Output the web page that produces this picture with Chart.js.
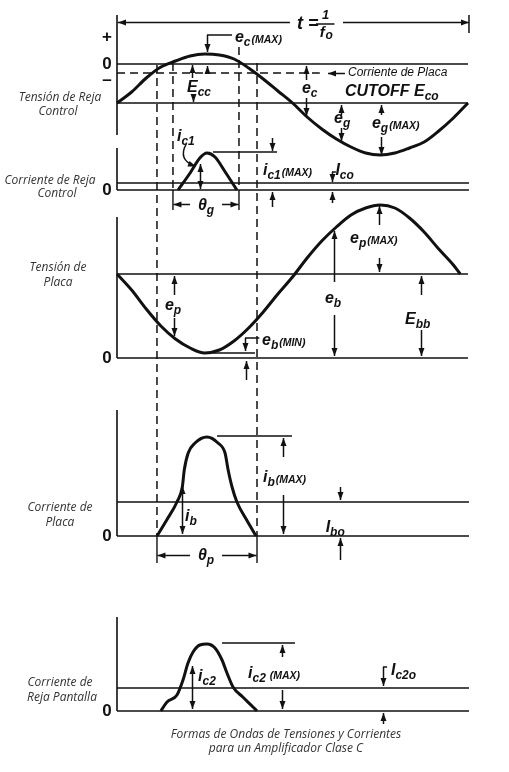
<!DOCTYPE html>
<html>
<head>
<meta charset="utf-8">
<script src="https://cdn.jsdelivr.net/npm/chart.js@4.4.1/dist/chart.umd.min.js"></script>
<style>
  html, body { margin: 0; padding: 0; background: #fff; }
  canvas { display: block; }
</style>
</head>
<body>
<canvas id="waves" width="509" height="772"></canvas>
<script>
// Phase in electrical degrees over one period t = 1/f0
const phase = [0, 15, 30, 45, 60, 75, 90, 105, 120, 135, 150, 165, 180, 195, 210, 225, 240, 255, 270, 285, 300, 315, 330, 345, 360];
// grid signal e_g, measured from the bias line -Ecc (up = positive)
const gridSignal = [0, 11, 25, 36, 42, 47, 49, 48, 44, 35, 24, 12, 0, -14, -26, -36, -44, -50, -52, -50, -45, -39, -28, -15, 0];

// plate signal e_p, measured from Ebb (the drawn curve stops a little short of 360)
const platePhase = [0, 15, 30, 45, 60, 75, 90, 105, 120, 135, 150, 165, 180, 195, 210, 225, 240, 255, 270, 285, 300, 315, 330, 345, 352];
const plateSignal = [0, -16, -35, -52, -65, -74, -79, -76, -67, -54, -38, -20, -3, 16, 33, 47, 59, 66, 69, 66, 56, 42, 25, 9, 0];

// current pulses
const gridCurrentPhase = [62.6, 75, 85, 92.3, 100.5, 111, 123];
const gridCurrent = [0, 17, 32, 37, 33, 18, 0];
const plateCurrentPhase = [41, 51, 61.5, 67, 69, 73, 80, 92.3, 103.6, 110.8, 114, 118, 123, 133, 142.6];
const plateCurrent = [0, 16, 34, 49, 66, 83, 93, 99, 93, 83, 66, 49, 34, 16, 0];
const screenCurrentPhase = [45, 51.3, 61.5, 67.7, 72.8, 78, 85, 92.3, 100.5, 107.7, 112.8, 119, 129, 139.5, 143.6];
const screenCurrent = [0, 9, 16, 31, 48, 59, 66, 67, 63, 51, 38, 24, 14, 4, 0];

// dc levels
const biasEcc = 39;      // grid bias below zero
const cutoffEco = 9;     // plate current cutoff below zero
const gridIco = 7;
const plateEbb = 84;
const plateIbo = 34;
const screenIc2o = 23;

// conduction angles (dashed verticals)
const plateAngles = [41, 143.6];
const gridAngles = [57.4, 125.1];

// layout: zero line of every panel (canvas rows, top-down) and top of its axis
const zeroRow = { gridV: 64, gridI: 190, plateV: 358, plateI: 536, screenI: 711 };
const axisTop = { gridV: 15, gridI: 148, plateV: 217, plateI: 410, screenI: 617 };

const INK = '#111';

function curve(xs, ys, toRow) {
  return {
    data: xs.map((x, i) => ({ x: x, y: toRow(ys[i]) })),
    showLine: true, borderColor: INK, borderWidth: 3, pointRadius: 0,
    cubicInterpolationMode: 'monotone', clip: false
  };
}
function seg(x1, y1, x2, y2, extra) {
  return Object.assign({
    data: [{ x: x1, y: y1 }, { x: x2, y: y2 }],
    showLine: true, borderColor: INK, borderWidth: 1.6, pointRadius: 0, clip: false
  }, extra || {});
}
const dashed = { borderDash: [8, 5], borderWidth: 1.5 };

const datasets = [
  curve(phase, gridSignal, v => zeroRow.gridV + biasEcc - v),
  curve(platePhase, plateSignal, v => zeroRow.plateV - plateEbb - v),
  curve(gridCurrentPhase, gridCurrent, v => zeroRow.gridI - v),
  curve(plateCurrentPhase, plateCurrent, v => zeroRow.plateI - v),
  curve(screenCurrentPhase, screenCurrent, v => zeroRow.screenI - v),

  // grid voltage panel
  seg(0, zeroRow.gridV, 360, zeroRow.gridV),
  seg(0, zeroRow.gridV + biasEcc, 360, zeroRow.gridV + biasEcc),
  seg(0, zeroRow.gridV + cutoffEco, 208, zeroRow.gridV + cutoffEco, dashed),
  seg(0, axisTop.gridV, 0, 135),
  // grid current panel
  seg(0, zeroRow.gridI, 361, zeroRow.gridI),
  seg(0, zeroRow.gridI - gridIco, 361, zeroRow.gridI - gridIco),
  seg(0, axisTop.gridI, 0, zeroRow.gridI),
  // plate voltage panel
  seg(0, zeroRow.plateV, 360, zeroRow.plateV),
  seg(0, zeroRow.plateV - plateEbb, 360, zeroRow.plateV - plateEbb),
  seg(0, axisTop.plateV, 0, zeroRow.plateV),
  // plate current panel
  seg(0, zeroRow.plateI, 361, zeroRow.plateI),
  seg(0, zeroRow.plateI - plateIbo, 361, zeroRow.plateI - plateIbo),
  seg(0, axisTop.plateI, 0, zeroRow.plateI),
  // screen current panel
  seg(0, zeroRow.screenI, 361, zeroRow.screenI),
  seg(0, zeroRow.screenI - screenIc2o, 361, zeroRow.screenI - screenIc2o),
  seg(0, axisTop.screenI, 0, zeroRow.screenI),

  // conduction angle markers
  seg(plateAngles[0], 65, plateAngles[0], zeroRow.plateI, dashed),
  seg(plateAngles[1], 63, plateAngles[1], zeroRow.plateI, dashed),
  seg(plateAngles[0], zeroRow.plateI, plateAngles[0], 563, { borderWidth: 1.4 }),
  seg(plateAngles[1], zeroRow.plateI, plateAngles[1], 563, { borderWidth: 1.4 }),
  seg(gridAngles[0], 63, gridAngles[0], zeroRow.gridI, dashed),
  seg(gridAngles[1], 47, gridAngles[1], zeroRow.gridI, dashed),
  seg(gridAngles[0], zeroRow.gridI, gridAngles[0], 210, { borderWidth: 1.4 }),
  seg(gridAngles[1], zeroRow.gridI, gridAngles[1], 210, { borderWidth: 1.4 })
];

const FONT = {
  m: { font: 'italic bold 16px "Liberation Sans"', dy: 0 },
  s: { font: 'italic bold 12px "Liberation Sans"', dy: 4 },
  x: { font: 'italic bold 10.5px "Liberation Sans"', dy: 1 },
  c: { font: 'italic bold 16px "Liberation Sans"', dy: 0 }
};

// symbol labels: [phase, baseline row, parts]
const symbols = [
  [121, 42, [['e', 'm'], ['c', 's'], ['(MAX)', 'x']]],
  [71.8, 92, [['E', 'm'], ['cc', 's']]],
  [189.7, 93, [['e', 'm'], ['c', 's']]],
  [222.6, 123, [['e', 'm'], ['g', 's']]],
  [261.5, 128, [['e', 'm'], ['g', 's'], ['(MAX)', 'x']]],
  [233.8, 96, [['CUTOFF ', 'c'], ['E', 'c'], ['co', 's']]],
  [61.5, 141, [['i', 'm'], ['c1', 's']]],
  [149.7, 175, [['i', 'm'], ['c1', 's'], ['(MAX)', 'x']]],
  [224, 175, [['I', 'm'], ['co', 's']]],
  [49.2, 310, [['e', 'm'], ['p', 's']]],
  [213.3, 303, [['e', 'm'], ['b', 's']]],
  [239, 243, [['e', 'm'], ['p', 's'], ['(MAX)', 'x']]],
  [295.4, 324, [['E', 'm'], ['bb', 's']]],
  [148.7, 345, [['e', 'm'], ['b', 's'], ['(MIN)', 'x']]],
  [149.7, 482, [['i', 'm'], ['b', 's'], ['(MAX)', 'x']]],
  [214, 532, [['I', 'm'], ['bo', 's']]],
  [69.7, 521, [['i', 'm'], ['b', 's']]],
  [83.1, 681, [['i', 'm'], ['c2', 's']]],
  [134.4, 678, [['i', 'm'], ['c2', 's'], [' (MAX)', 'x']]],
  [281, 675, [['I', 'm'], ['c2o', 's']]]
];
// centred theta labels
const thetas = [[91.3, 210, 'g'], [91.3, 560, 'p']];

// vertical arrows: [phase, from row, to row (head)]
const vArrows = [
  [92.3, 35, 52], [76.9, 78, 65], [77.9, 95, 102], [92.3, 74, 66],
  [193.8, 80, 66], [193.8, 98, 116], [229.7, 115, 105], [229.7, 128, 141],
  [270.8, 115, 105], [270.8, 137, 155],
  [85.1, 176, 164], [85.1, 176, 189], [159, 138, 151], [159, 207, 192],
  [220.5, 172, 182], [220.5, 203, 192],
  [58.5, 295, 276], [58.5, 318, 336], [222.6, 282, 231], [222.6, 315, 356],
  [268.7, 225, 206], [268.7, 258, 272], [311.8, 295, 276], [311.8, 330, 356],
  [131.3, 338, 351], [131.8, 380, 361],
  [170.3, 457, 438], [170.3, 495, 534], [228.7, 487, 500], [228.7, 560, 538],
  [66.7, 510, 486], [66.7, 510, 534],
  [169.2, 657, 645], [169.2, 690, 709], [76.9, 690, 666], [76.9, 690, 709],
  [272.8, 667, 686], [272.8, 724, 713]
];
// horizontal arrows: [row, from phase, to phase (head)]
const hArrows = [
  [22, 177.4, 1], [22, 231.8, 361],
  [73, 233.8, 216.4],
  [204, 74.9, 57.9], [204, 107.7, 124.6],
  [555, 74.9, 41.5], [555, 107.7, 143.1]
];
// plain leader lines: [phase1, row1, phase2, row2]
const leaders = [
  [92.3, 35, 117.9, 35], [98.5, 152, 164.1, 152],
  [98.5, 353, 141.5, 353], [131.3, 338, 146, 338],
  [102.6, 436, 179.5, 436], [107.7, 643, 182.6, 643],
  [220.5, 172, 224.5, 172], [272.8, 667, 277, 667],
  [361, 15, 361, 33], [204, 24, 223, 24]
];
// side captions: [text, centre phase, row]
const sideLabels = [
  ['Tensión de Reja', -58.5, 98], ['Control', -60.5, 112],
  ['Corriente de Reja', -68.7, 181], ['Control', -61.5, 194],
  ['Tensión de', -60.5, 268], ['Placa', -60.5, 283],
  ['Corriente de', -58.5, 508], ['Placa', -58.5, 523],
  ['Corriente de', -58.5, 683], ['Reja Pantalla', -56.4, 698],
  ['Formas de Ondas de Tensiones y Corrientes', 173.3, 735],
  ['para un Amplificador Clase C', 173.3, 749]
];
const levelMarks = [['+', 37], ['0', zeroRow.gridV], ['–', 80], ['0', zeroRow.gridI],
  ['0', zeroRow.plateV], ['0', zeroRow.plateI], ['0', zeroRow.screenI]];

const annotations = {
  id: 'annotations',
  afterDatasetsDraw(chart) {
    const ctx = chart.ctx;
    const X = v => chart.scales.x.getPixelForValue(v);
    const Y = v => chart.scales.y.getPixelForValue(v);
    ctx.save();
    ctx.strokeStyle = INK;
    ctx.fillStyle = INK;
    ctx.lineWidth = 1.5;

    function head(x, y, ang) {
      ctx.save();
      ctx.translate(x, y);
      ctx.rotate(ang);
      ctx.beginPath();
      ctx.moveTo(0, 0);
      ctx.lineTo(-8, -3);
      ctx.lineTo(-8, 3);
      ctx.closePath();
      ctx.fill();
      ctx.restore();
    }
    function line(x1, y1, x2, y2) {
      ctx.beginPath();
      ctx.moveTo(x1, y1);
      ctx.lineTo(x2, y2);
      ctx.stroke();
    }

    vArrows.forEach(([p, a, b]) => {
      const x = Math.round(X(p)) + 0.5;
      line(x, Y(a), x, Y(b));
      head(x, Y(b), b > a ? Math.PI / 2 : -Math.PI / 2);
    });
    hArrows.forEach(([r, a, b]) => {
      const y = Math.round(Y(r)) + 0.5;
      line(X(a), y, X(b), y);
      head(X(b), y, b > a ? 0 : Math.PI);
    });
    leaders.forEach(([a, r1, b, r2]) => line(X(a), Y(r1), X(b), Y(r2)));

    // curved pointer from i_c1 to its pulse
    ctx.beginPath();
    ctx.moveTo(X(71), Y(144));
    ctx.quadraticCurveTo(X(62), Y(160), X(80), Y(166));
    ctx.stroke();
    head(X(81), Y(166.5), 0.35);

    ctx.textBaseline = 'alphabetic';
    ctx.textAlign = 'left';
    symbols.forEach(([p, r, parts]) => {
      let cx = X(p);
      parts.forEach(([t, k]) => {
        ctx.font = FONT[k].font;
        ctx.fillText(t, cx, Y(r) + FONT[k].dy);
        cx += ctx.measureText(t).width + (k === 's' ? 1 : 0);
      });
    });
    thetas.forEach(([p, r, sub]) => {
      ctx.font = FONT.m.font;
      const w1 = ctx.measureText('θ').width;
      ctx.font = FONT.s.font;
      const w2 = ctx.measureText(sub).width;
      const x0 = X(p) - (w1 + w2) / 2;
      ctx.font = FONT.m.font;
      ctx.fillText('θ', x0, Y(r));
      ctx.font = FONT.s.font;
      ctx.fillText(sub, x0 + w1, Y(r) + 4);
    });

    // t = 1/f0
    ctx.font = 'italic bold 18px "Liberation Sans"';
    ctx.fillText('t =', X(184.5), Y(29));
    ctx.font = 'italic bold 13px "Liberation Sans"';
    ctx.textAlign = 'center';
    ctx.fillText('1', X(214), Y(19));
    ctx.font = 'italic bold 15px "Liberation Sans"';
    ctx.fillText('f', X(210.5), Y(37));
    ctx.font = FONT.s.font;
    ctx.fillText('o', X(217.5), Y(39));

    ctx.font = 'italic 12px "Liberation Sans"';
    ctx.textAlign = 'left';
    ctx.textBaseline = 'middle';
    ctx.fillText('Corriente de Placa', X(236.9), Y(73));

    ctx.fillStyle = '#333';
    ctx.textAlign = 'center';
    ctx.font = 'italic 12px "Open Sans"';
    sideLabels.forEach(([t, p, r]) => ctx.fillText(t, X(p), Y(r)));

    ctx.fillStyle = INK;
    ctx.font = 'bold 17px "Liberation Sans"';
    levelMarks.forEach(([t, r]) => ctx.fillText(t, X(-10.3), Y(r)));
    ctx.restore();
  }
};

new Chart(document.getElementById('waves').getContext('2d'), {
  type: 'scatter',
  data: { datasets: datasets },
  options: {
    responsive: false,
    animation: false,
    devicePixelRatio: 1,
    layout: { padding: { left: 117, right: 41, top: 0, bottom: 0 } },
    scales: {
      x: { type: 'linear', min: 0, max: 360, display: false },
      y: { type: 'linear', min: 0, max: 772, reverse: true, display: false }
    },
    plugins: { legend: { display: false }, tooltip: { enabled: false } }
  },
  plugins: [annotations]
});
</script>
</body>
</html>
